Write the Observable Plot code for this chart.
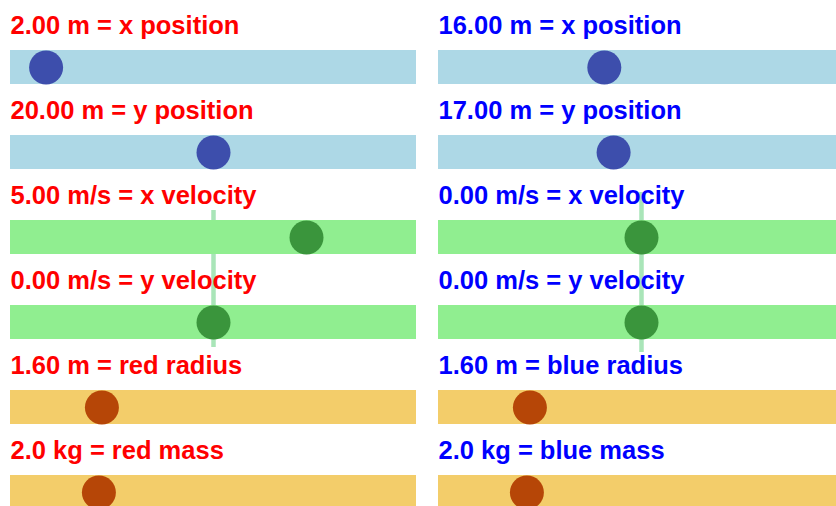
<!DOCTYPE html>
<html><head><meta charset="utf-8">
<script src="https://cdn.jsdelivr.net/npm/d3@7"></script>
<script src="https://cdn.jsdelivr.net/npm/@observablehq/plot@0.6"></script>
<style>
html,body{margin:0;padding:0;background:#fff;overflow:hidden;}
#wrap{display:flex;width:836px;height:506px;overflow:hidden;}
#left{width:416px;flex:none;overflow:hidden;}
#right{width:408px;margin-left:12px;flex:none;overflow:hidden;}
</style></head><body><div id="wrap"><div id="left"></div><div id="right"></div></div>
<script>
// Slider rows (top to bottom)
const quantities = ["x position", "y position", "x velocity", "y velocity", "radius", "mass"];
const units = ["m", "m", "m/s", "m/s", "m", "kg"];
const decimals = [2, 2, 2, 2, 2, 1];
const perBall = [false, false, false, false, true, true];
const sliderMin = [0, 0, -10, -10, 0, 0.1];
const sliderMax = [40, 40, 10, 10, 8, 10];
// Values of the two balls
const redValues = [2, 20, 5, 0, 1.6, 2];
const blueValues = [16, 17, 0, 0, 1.6, 2];
// Colors
const trackColors = ["#add8e6", "#add8e6", "#90ee90", "#90ee90", "#f3cd6a", "#f3cd6a"];
const knobColors = ["#3d4eac", "#3d4eac", "#3a953c", "#3a953c", "#b64607", "#b64607"];

function panel(ball, values, textColor, width, lineTop, lineBottom) {
  const rows = quantities.map((q, i) => ({
    row: i,
    frac: (values[i] - sliderMin[i]) / (sliderMax[i] - sliderMin[i]),
    label: `${values[i].toFixed(decimals[i])} ${units[i]} = ${perBall[i] ? ball + " " + q : q}`,
    track: trackColors[i],
    knob: knobColors[i]
  }));
  const zeroFrac = (0 - sliderMin[2]) / (sliderMax[2] - sliderMin[2]);
  return Plot.plot({
    width, height: 506, margin: 0,
    x: {domain: [0, 1], range: [27, 399], axis: null},
    y: {domain: [0, 6], range: [50, 560], axis: null},
    color: {type: "identity"},
    marks: [
      Plot.ruleX([zeroFrac], {x: d => d, y1: 2, y2: 3.4, stroke: "#a9e5b8", strokeWidth: 4.5,
        insetTop: lineTop, insetBottom: lineBottom}),
      Plot.rect(rows, {x1: 0, x2: 1, y1: "row", y2: d => d.row + 0.4, fill: "track",
        insetLeft: -17, insetRight: -17}),
      Plot.dot(rows, {x: "frac", y: d => d.row + 0.2, r: 17, fill: "knob"}),
      Plot.text(rows, {x: 0, y: "row", text: "label", dx: -17, dy: -25, textAnchor: "start",
        fill: textColor, fontSize: 25.5, fontWeight: "bold",
        fontFamily: "'Liberation Sans', Arial, sans-serif"})
    ]
  });
}

document.getElementById("left").append(panel("red", redValues, "red", 416, -10, -8));
document.getElementById("right").append(panel("blue", blueValues, "blue", 408, -28, -13));
</script></body></html>
